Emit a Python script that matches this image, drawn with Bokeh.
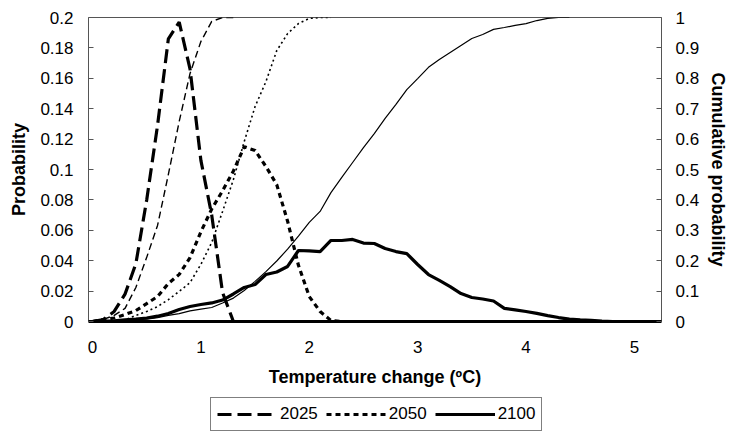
from bokeh.plotting import figure
from bokeh.layouts import column
from bokeh.models import Range1d, LinearAxis, FixedTicker, Legend, LegendItem
from bokeh.embed import file_html
from bokeh.resources import INLINE

# Temperature change categories (ºC), 0.1 steps
temp = [0.0, 0.1, 0.2, 0.3, 0.4, 0.5, 0.6, 0.7, 0.8, 0.9,
        1.0, 1.1, 1.2, 1.3, 1.4, 1.5, 1.6, 1.7, 1.8, 1.9,
        2.0, 2.1, 2.2, 2.3, 2.4, 2.5, 2.6, 2.7, 2.8, 2.9,
        3.0, 3.1, 3.2, 3.3, 3.4, 3.5, 3.6, 3.7, 3.8, 3.9,
        4.0, 4.1, 4.2, 4.3, 4.4, 4.5, 4.6, 4.7, 4.8]

# Probability (left axis)
pdf_2025 = [0, 0.0013, 0.0066, 0.018, 0.038, 0.080, 0.129, 0.186, 0.197, 0.166,
            0.106, 0.070, 0.019, 0]
pdf_2050 = [0, 0.0013, 0.0023, 0.0046, 0.0072, 0.0118, 0.0164, 0.025, 0.031, 0.042,
            0.059, 0.074, 0.086, 0.099, 0.115, 0.1125, 0.102, 0.090, 0.066, 0.037,
            0.0164, 0.0066, 0.0007, 0]
pdf_2100 = [0, 0.0002, 0.0005, 0.0011, 0.0016, 0.0023, 0.0035, 0.0053, 0.0079, 0.0099,
            0.0112, 0.0122, 0.0141, 0.0181, 0.0224, 0.0243, 0.0309, 0.0326, 0.0362, 0.0467,
            0.0464, 0.046, 0.0533, 0.0533, 0.054, 0.0516, 0.0513, 0.048, 0.046, 0.0447,
            0.0375, 0.0309, 0.027, 0.023, 0.0184, 0.0158, 0.0148, 0.0135, 0.0086, 0.0077,
            0.0066, 0.0053, 0.0039, 0.0026, 0.0016, 0.0011, 0.0007, 0.0002, 0]

# Cumulative probability (right axis)
cdf_2025 = [0, 0.007, 0.02, 0.043, 0.112, 0.211, 0.316, 0.484, 0.658, 0.816,
            0.921, 0.987, 1.0, 1.0]
cdf_2050 = [0, 0.001, 0.002, 0.005, 0.02, 0.033, 0.049, 0.072, 0.099, 0.128,
            0.188, 0.26, 0.362, 0.467, 0.592, 0.707, 0.789, 0.891, 0.947, 0.98,
            0.997, 1.0, 1.0]
cdf_2100 = [0, 0.002, 0.003, 0.005, 0.007, 0.008, 0.013, 0.02, 0.026, 0.035,
            0.041, 0.046, 0.061, 0.077, 0.102, 0.132, 0.164, 0.199, 0.238, 0.281,
            0.326, 0.362, 0.424, 0.474, 0.523, 0.572, 0.618, 0.668, 0.714, 0.763,
            0.799, 0.836, 0.862, 0.885, 0.908, 0.931, 0.944, 0.961, 0.967, 0.974,
            0.98, 0.99, 0.997, 1.0, 1.0]

x_ticks = [0, 1, 2, 3, 4, 5]
x_labels = ["0", "1", "2", "3", "4", "5"]
left_ticks = [0, 0.02, 0.04, 0.06, 0.08, 0.1, 0.12, 0.14, 0.16, 0.18, 0.2]
left_labels = ["0", "0.02", "0.04", "0.06", "0.08", "0.1", "0.12", "0.14", "0.16", "0.18", "0.2"]
right_ticks = [0, 0.1, 0.2, 0.3, 0.4, 0.5, 0.6, 0.7, 0.8, 0.9, 1.0]
right_labels = ["0", "0.1", "0.2", "0.3", "0.4", "0.5", "0.6", "0.7", "0.8", "0.9", "1"]
years = ["2025", "2050", "2100"]

FONT = "Liberation Sans"

# ---- main chart ----
p = figure(width=731, height=395, output_backend="svg", toolbar_location=None,
           x_range=Range1d(-0.037, 5.25), y_range=Range1d(0, 0.2),
           min_border_left=88, min_border_right=67, min_border_top=17, min_border_bottom=74)
p.extra_y_ranges = {"cum": Range1d(0, 1)}
p.xgrid.visible = False
p.ygrid.visible = False
p.outline_line_color = "#555555"
p.outline_line_width = 1
p.background_fill_color = "white"
p.border_fill_color = "white"

def style_axis(ax, ticks, labels, title, tick_in):
    ax.ticker = FixedTicker(ticks=ticks)
    ax.major_label_overrides = {t: l for t, l in zip(ticks, labels)}
    ax.axis_label = title
    ax.axis_label_text_font = FONT
    ax.axis_label_text_font_style = "bold"
    ax.axis_label_text_font_size = "18px"
    ax.axis_label_text_color = "black"
    ax.major_label_text_font = FONT
    ax.major_label_text_font_size = "17px"
    ax.major_label_text_color = "black"
    ax.minor_tick_line_color = None
    ax.major_tick_in = tick_in
    ax.major_tick_out = 0
    ax.major_tick_line_color = "#555555"

xa = p.xaxis[0]
style_axis(xa, x_ticks, x_labels, "Temperature change (ºC)", 0)
xa.major_label_standoff = 19
xa.axis_label_standoff = 11
xa.axis_line_color = "black"
xa.axis_line_width = 3

ya = p.yaxis[0]
style_axis(ya, left_ticks, left_labels, "Probability", 5)
ya.major_label_standoff = 15
ya.axis_label_standoff = 8
ya.axis_line_color = None

ra = LinearAxis(y_range_name="cum")
style_axis(ra, right_ticks, right_labels, "Cumulative probability", 5)
ra.major_label_standoff = 14
ra.axis_label_standoff = 6
ra.axis_line_color = None
p.add_layout(ra, "right")

STY_PDF25 = dict(line_color="black", line_width=3.2, line_dash="14 6")
STY_PDF50 = dict(line_color="black", line_width=3.2, line_dash="5 4")
STY_PDF100 = dict(line_color="black", line_width=3.2)

p.line(temp[:len(pdf_2025)], pdf_2025, **STY_PDF25)
p.line(temp[:len(cdf_2025)], cdf_2025, y_range_name="cum", line_color="black", line_width=1.4, line_dash="7 4")
p.line(temp[:len(pdf_2050)], pdf_2050, **STY_PDF50)
p.line(temp[:len(cdf_2050)], cdf_2050, y_range_name="cum", line_color="black", line_width=1.6, line_dash="2 3")
p.line(temp[:len(pdf_2100)], pdf_2100, **STY_PDF100)
p.line(temp[:len(cdf_2100)], cdf_2100, y_range_name="cum", line_color="black", line_width=1.2)

# ---- legend strip below ----
lg = figure(width=731, height=50, output_backend="svg", toolbar_location=None,
            x_range=Range1d(0, 1), y_range=Range1d(0, 1),
            x_axis_type=None, y_axis_type=None, min_border=0)
lg.xgrid.visible = False
lg.ygrid.visible = False
lg.outline_line_color = None
lg.border_fill_color = "white"
s25 = lg.line([-2, -1], [-2, -2], **STY_PDF25)
s50 = lg.line([-2, -1], [-2, -2], **STY_PDF50)
s100 = lg.line([-2, -1], [-2, -2], **STY_PDF100)

legend = Legend(items=[LegendItem(label=years[0], renderers=[s25]),
                       LegendItem(label=years[1], renderers=[s50]),
                       LegendItem(label=years[2], renderers=[s100])],
                orientation="horizontal", location=(122, 14))
legend.label_text_font = FONT
legend.label_text_font_size = "17px"
legend.label_text_color = "black"
legend.glyph_width = 60
legend.glyph_height = 18
legend.label_standoff = 3
legend.spacing = 8
legend.padding = 6
legend.margin = 0
legend.border_line_color = "black"
legend.border_line_width = 1
legend.background_fill_alpha = 1
lg.add_layout(legend, "center")

layout = column(p, lg, spacing=0)
open("out.html", "w").write(file_html(layout, INLINE))
